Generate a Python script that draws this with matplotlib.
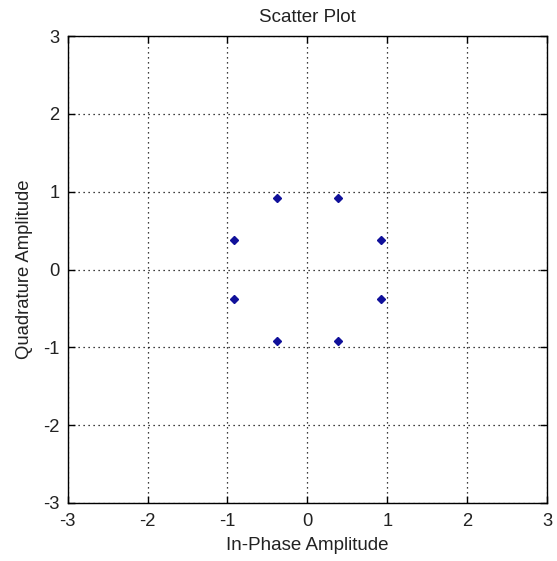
import matplotlib
matplotlib.use('Agg')
import matplotlib.pyplot as plt
import numpy as np

plt.rcParams['font.family'] = ['Liberation Sans', 'DejaVu Sans']

# 8-PSK constellation points
in_phase = [0.92, 0.38, -0.38, -0.92, -0.92, -0.38, 0.38, 0.92]
quadrature = [0.38, 0.92, 0.92, 0.38, -0.38, -0.92, -0.92, -0.38]
ticks = [-3, -2, -1, 0, 1, 2, 3]

fig = plt.figure(figsize=(5.57, 5.61), dpi=100)
fig.patch.set_facecolor('white')
ax = fig.add_axes([0.1215, 0.1034, 0.8606, 0.8324])

ax.plot(in_phase, quadrature, linestyle='none', marker='D', markersize=4,
        color='#10109a', markeredgecolor='#10109a', zorder=5)

ax.set_xlim(-3, 3)
ax.set_ylim(-3, 3)
ax.set_xticks(ticks)
ax.set_yticks(ticks)
ax.set_xticklabels([str(t) for t in ticks])
ax.set_yticklabels([str(t) for t in ticks])
ax.grid(True, color='black', linestyle=(0, (1, 3)), linewidth=0.9)
ax.tick_params(direction='in', top=True, right=True, length=5, width=1,
               labelsize=13.2, colors='black', labelcolor='#222222')
ax.tick_params(axis='x', pad=7)
ax.tick_params(axis='y', pad=6)
for sp in ax.spines.values():
    sp.set_linewidth(1)

ax.set_title('Scatter Plot', fontsize=13.5, color='#222222', pad=10)
ax.set_xlabel('In-Phase Amplitude', fontsize=13.5, color='#222222', labelpad=5)
ax.set_ylabel('Quadrature Amplitude', fontsize=13.3, color='#222222', labelpad=7)

fig.savefig('out.png', dpi=100, facecolor='white')
plt.close(fig)
